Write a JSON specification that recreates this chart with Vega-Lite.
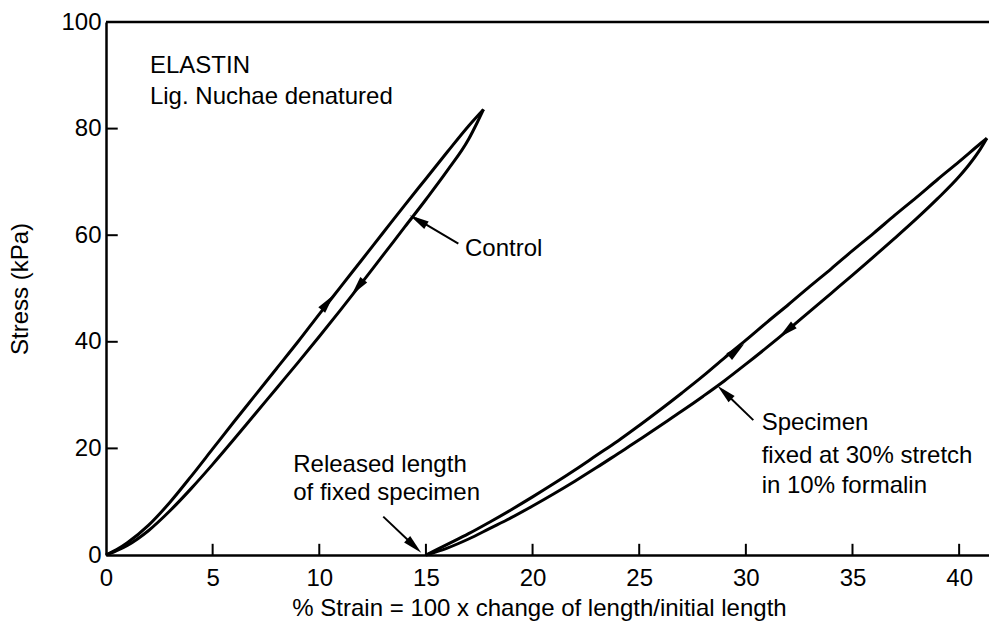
{
  "$schema": "https://vega.github.io/schema/vega-lite/v6.json",
  "width": 883,
  "height": 533,
  "autosize": {"type": "none"},
  "padding": {"left": 106, "top": 22, "right": 0, "bottom": 69},
  "background": "white",
  "config": {
    "view": {"stroke": null},
    "font": "Liberation Sans",
    "axis": {
      "grid": false,
      "domainColor": "black",
      "domainWidth": 2.5,
      "ticks": false,
      "labelFont": "Liberation Sans",
      "labelFontSize": 24,
      "labelColor": "black",
      "labelFlush": false,
      "labelOverlap": false,
      "labelBound": false,
      "titleFont": "Liberation Sans",
      "titleFontSize": 24,
      "titleFontWeight": "normal",
      "titleColor": "black"
    }
  },
  "datasets": {
    "curves": [
      {"curve": "C_up", "strain": 0, "stress": 0},
      {"curve": "C_up", "strain": 0.5, "stress": 1.0},
      {"curve": "C_up", "strain": 1, "stress": 2.3},
      {"curve": "C_up", "strain": 2, "stress": 5.6},
      {"curve": "C_up", "strain": 3, "stress": 9.9},
      {"curve": "C_up", "strain": 4, "stress": 14.8},
      {"curve": "C_up", "strain": 5, "stress": 19.9},
      {"curve": "C_up", "strain": 6, "stress": 25.0},
      {"curve": "C_up", "strain": 7, "stress": 30.0},
      {"curve": "C_up", "strain": 8, "stress": 35.0},
      {"curve": "C_up", "strain": 9, "stress": 40.0},
      {"curve": "C_up", "strain": 10, "stress": 45.2},
      {"curve": "C_up", "strain": 11, "stress": 50.3},
      {"curve": "C_up", "strain": 12, "stress": 55.4},
      {"curve": "C_up", "strain": 13, "stress": 60.5},
      {"curve": "C_up", "strain": 14, "stress": 65.6},
      {"curve": "C_up", "strain": 15, "stress": 70.6},
      {"curve": "C_up", "strain": 16, "stress": 75.6},
      {"curve": "C_up", "strain": 17, "stress": 80.5},
      {"curve": "C_up", "strain": 17.7, "stress": 83.6},
      {"curve": "C_dn", "strain": 0, "stress": 0},
      {"curve": "C_dn", "strain": 0.5, "stress": 0.8},
      {"curve": "C_dn", "strain": 1, "stress": 1.8},
      {"curve": "C_dn", "strain": 2, "stress": 4.6},
      {"curve": "C_dn", "strain": 3, "stress": 8.3},
      {"curve": "C_dn", "strain": 4, "stress": 12.5},
      {"curve": "C_dn", "strain": 5, "stress": 17.0},
      {"curve": "C_dn", "strain": 6, "stress": 21.7},
      {"curve": "C_dn", "strain": 7, "stress": 26.5},
      {"curve": "C_dn", "strain": 8, "stress": 31.3},
      {"curve": "C_dn", "strain": 9, "stress": 36.1},
      {"curve": "C_dn", "strain": 10, "stress": 41.0},
      {"curve": "C_dn", "strain": 11, "stress": 46.0},
      {"curve": "C_dn", "strain": 12, "stress": 51.1},
      {"curve": "C_dn", "strain": 13, "stress": 56.3},
      {"curve": "C_dn", "strain": 14, "stress": 61.5},
      {"curve": "C_dn", "strain": 15, "stress": 66.7},
      {"curve": "C_dn", "strain": 16, "stress": 72.1},
      {"curve": "C_dn", "strain": 17, "stress": 78.0},
      {"curve": "C_dn", "strain": 17.4, "stress": 81.1},
      {"curve": "C_dn", "strain": 17.7, "stress": 83.6},
      {"curve": "S_up", "strain": 15, "stress": 0},
      {"curve": "S_up", "strain": 16, "stress": 2.0},
      {"curve": "S_up", "strain": 17, "stress": 4.0},
      {"curve": "S_up", "strain": 18, "stress": 6.2},
      {"curve": "S_up", "strain": 19, "stress": 8.5},
      {"curve": "S_up", "strain": 20, "stress": 10.9},
      {"curve": "S_up", "strain": 21, "stress": 13.4},
      {"curve": "S_up", "strain": 22, "stress": 16.0},
      {"curve": "S_up", "strain": 23, "stress": 18.7},
      {"curve": "S_up", "strain": 24, "stress": 21.4},
      {"curve": "S_up", "strain": 25, "stress": 24.3},
      {"curve": "S_up", "strain": 26, "stress": 27.3},
      {"curve": "S_up", "strain": 27, "stress": 30.4},
      {"curve": "S_up", "strain": 28, "stress": 33.6},
      {"curve": "S_up", "strain": 29, "stress": 37.0},
      {"curve": "S_up", "strain": 30, "stress": 40.3},
      {"curve": "S_up", "strain": 31, "stress": 43.7},
      {"curve": "S_up", "strain": 32, "stress": 47.0},
      {"curve": "S_up", "strain": 33, "stress": 50.4},
      {"curve": "S_up", "strain": 34, "stress": 53.7},
      {"curve": "S_up", "strain": 35, "stress": 57.1},
      {"curve": "S_up", "strain": 36, "stress": 60.4},
      {"curve": "S_up", "strain": 37, "stress": 63.8},
      {"curve": "S_up", "strain": 38, "stress": 67.1},
      {"curve": "S_up", "strain": 39, "stress": 70.5},
      {"curve": "S_up", "strain": 40, "stress": 73.8},
      {"curve": "S_up", "strain": 41, "stress": 77.2},
      {"curve": "S_up", "strain": 41.3, "stress": 78.2},
      {"curve": "S_dn", "strain": 15, "stress": 0},
      {"curve": "S_dn", "strain": 16, "stress": 1.3},
      {"curve": "S_dn", "strain": 17, "stress": 3.0},
      {"curve": "S_dn", "strain": 18, "stress": 5.0},
      {"curve": "S_dn", "strain": 19, "stress": 7.0},
      {"curve": "S_dn", "strain": 20, "stress": 9.2},
      {"curve": "S_dn", "strain": 21, "stress": 11.5},
      {"curve": "S_dn", "strain": 22, "stress": 13.9},
      {"curve": "S_dn", "strain": 23, "stress": 16.4},
      {"curve": "S_dn", "strain": 24, "stress": 19.0},
      {"curve": "S_dn", "strain": 25, "stress": 21.6},
      {"curve": "S_dn", "strain": 26, "stress": 24.3},
      {"curve": "S_dn", "strain": 27, "stress": 27.0},
      {"curve": "S_dn", "strain": 28, "stress": 29.8},
      {"curve": "S_dn", "strain": 29, "stress": 32.7},
      {"curve": "S_dn", "strain": 30, "stress": 35.8},
      {"curve": "S_dn", "strain": 31, "stress": 39.0},
      {"curve": "S_dn", "strain": 32, "stress": 42.3},
      {"curve": "S_dn", "strain": 33, "stress": 45.7},
      {"curve": "S_dn", "strain": 34, "stress": 49.1},
      {"curve": "S_dn", "strain": 35, "stress": 52.5},
      {"curve": "S_dn", "strain": 36, "stress": 56.0},
      {"curve": "S_dn", "strain": 37, "stress": 59.5},
      {"curve": "S_dn", "strain": 38, "stress": 63.1},
      {"curve": "S_dn", "strain": 39, "stress": 66.9},
      {"curve": "S_dn", "strain": 40, "stress": 71.0},
      {"curve": "S_dn", "strain": 40.5, "stress": 73.4},
      {"curve": "S_dn", "strain": 41, "stress": 76.2},
      {"curve": "S_dn", "strain": 41.3, "stress": 78.2}
    ],
    "pointers": [
      {"seg": "control", "strain": 16.52, "stress": 58.4},
      {"seg": "control", "strain": 14.5, "stress": 63.2},
      {"seg": "specimen", "strain": 30.35, "stress": 25.3},
      {"seg": "specimen", "strain": 28.9, "stress": 30.9},
      {"seg": "released", "strain": 13.0, "stress": 7.2},
      {"seg": "released", "strain": 14.55, "stress": 1.3}
    ],
    "heads": [
      {"strain": 10.4, "stress": 47.4, "angle": 38.6},
      {"strain": 11.8, "stress": 50.2, "angle": 218.6},
      {"strain": 29.57, "stress": 38.4, "angle": 50},
      {"strain": 31.9, "stress": 42.0, "angle": 230},
      {"strain": 14.63, "stress": 62.8, "angle": 300.3},
      {"strain": 29.0, "stress": 30.5, "angle": 313.6},
      {"strain": 14.45, "stress": 1.7, "angle": 133.6}
    ],
    "labels": [
      {"text": "ELASTIN", "strain": 2.06, "stress": 90.5},
      {"text": "Lig. Nuchae denatured", "strain": 2.06, "stress": 84.7},
      {"text": "Control", "strain": 16.83, "stress": 56.1},
      {"text": "Specimen", "strain": 30.74, "stress": 23.45},
      {"text": "fixed at 30% stretch", "strain": 30.74, "stress": 17.3},
      {"text": "in 10% formalin", "strain": 30.74, "stress": 11.6},
      {"text": "Released length", "strain": 8.78, "stress": 15.6},
      {"text": "of fixed specimen", "strain": 8.78, "stress": 10.3}
    ],
    "xticks": [
      {"strain": 5}, {"strain": 10}, {"strain": 15}, {"strain": 20},
      {"strain": 25}, {"strain": 30}, {"strain": 35}, {"strain": 40}
    ],
    "yticks": [
      {"stress": 20}, {"stress": 40}, {"stress": 60}, {"stress": 80}
    ]
  },
  "layer": [
    {
      "data": {"name": "curves"},
      "mark": {"type": "line", "color": "black", "strokeWidth": 3, "interpolate": "monotone"},
      "encoding": {
        "x": {
          "field": "strain",
          "type": "quantitative",
          "scale": {"domain": [0, 41.4], "nice": false, "zero": false},
          "axis": {
            "values": [0, 5, 10, 15, 20, 25, 30, 35, 40],
            "title": "% Strain = 100 x change of length/initial length",
            "labelPadding": 11,
            "titlePadding": 6,
            "titleX": 433
          }
        },
        "y": {
          "field": "stress",
          "type": "quantitative",
          "scale": {"domain": [0, 100], "nice": false, "zero": false},
          "axis": {
            "values": [0, 20, 40, 60, 80, 100],
            "title": "Stress (kPa)",
            "labelPadding": 5,
            "titlePadding": 28
          }
        },
        "detail": {"field": "curve"}
      }
    },
    {
      "data": {"name": "xticks"},
      "mark": {"type": "rule", "color": "black", "strokeWidth": 2},
      "encoding": {
        "x": {"field": "strain", "type": "quantitative"},
        "y": {"datum": 0},
        "y2": {"datum": 2.1}
      }
    },
    {
      "data": {"name": "yticks"},
      "mark": {"type": "rule", "color": "black", "strokeWidth": 2},
      "encoding": {
        "y": {"field": "stress", "type": "quantitative"},
        "x": {"datum": 0},
        "x2": {"datum": 0.55}
      }
    },
    {
      "data": {"name": "pointers"},
      "mark": {"type": "line", "color": "black", "strokeWidth": 2},
      "encoding": {
        "x": {"field": "strain", "type": "quantitative"},
        "y": {"field": "stress", "type": "quantitative"},
        "detail": {"field": "seg"}
      }
    },
    {
      "data": {"name": "heads"},
      "mark": {"type": "point", "shape": "M0,-1L0.45,1L-0.45,1Z", "filled": true, "color": "black", "size": 380, "opacity": 1, "strokeWidth": 0},
      "encoding": {
        "x": {"field": "strain", "type": "quantitative"},
        "y": {"field": "stress", "type": "quantitative"},
        "angle": {"field": "angle", "type": "quantitative", "scale": null}
      }
    },
    {
      "data": {"name": "labels"},
      "mark": {"type": "text", "align": "left", "baseline": "alphabetic", "font": "Liberation Sans", "fontSize": 24, "color": "black"},
      "encoding": {
        "x": {"field": "strain", "type": "quantitative"},
        "y": {"field": "stress", "type": "quantitative"},
        "text": {"field": "text"}
      }
    },
    {
      "data": {"values": [{}]},
      "mark": {"type": "rule", "color": "black", "strokeWidth": 2.5},
      "encoding": {"y": {"datum": 100}}
    }
  ]
}
